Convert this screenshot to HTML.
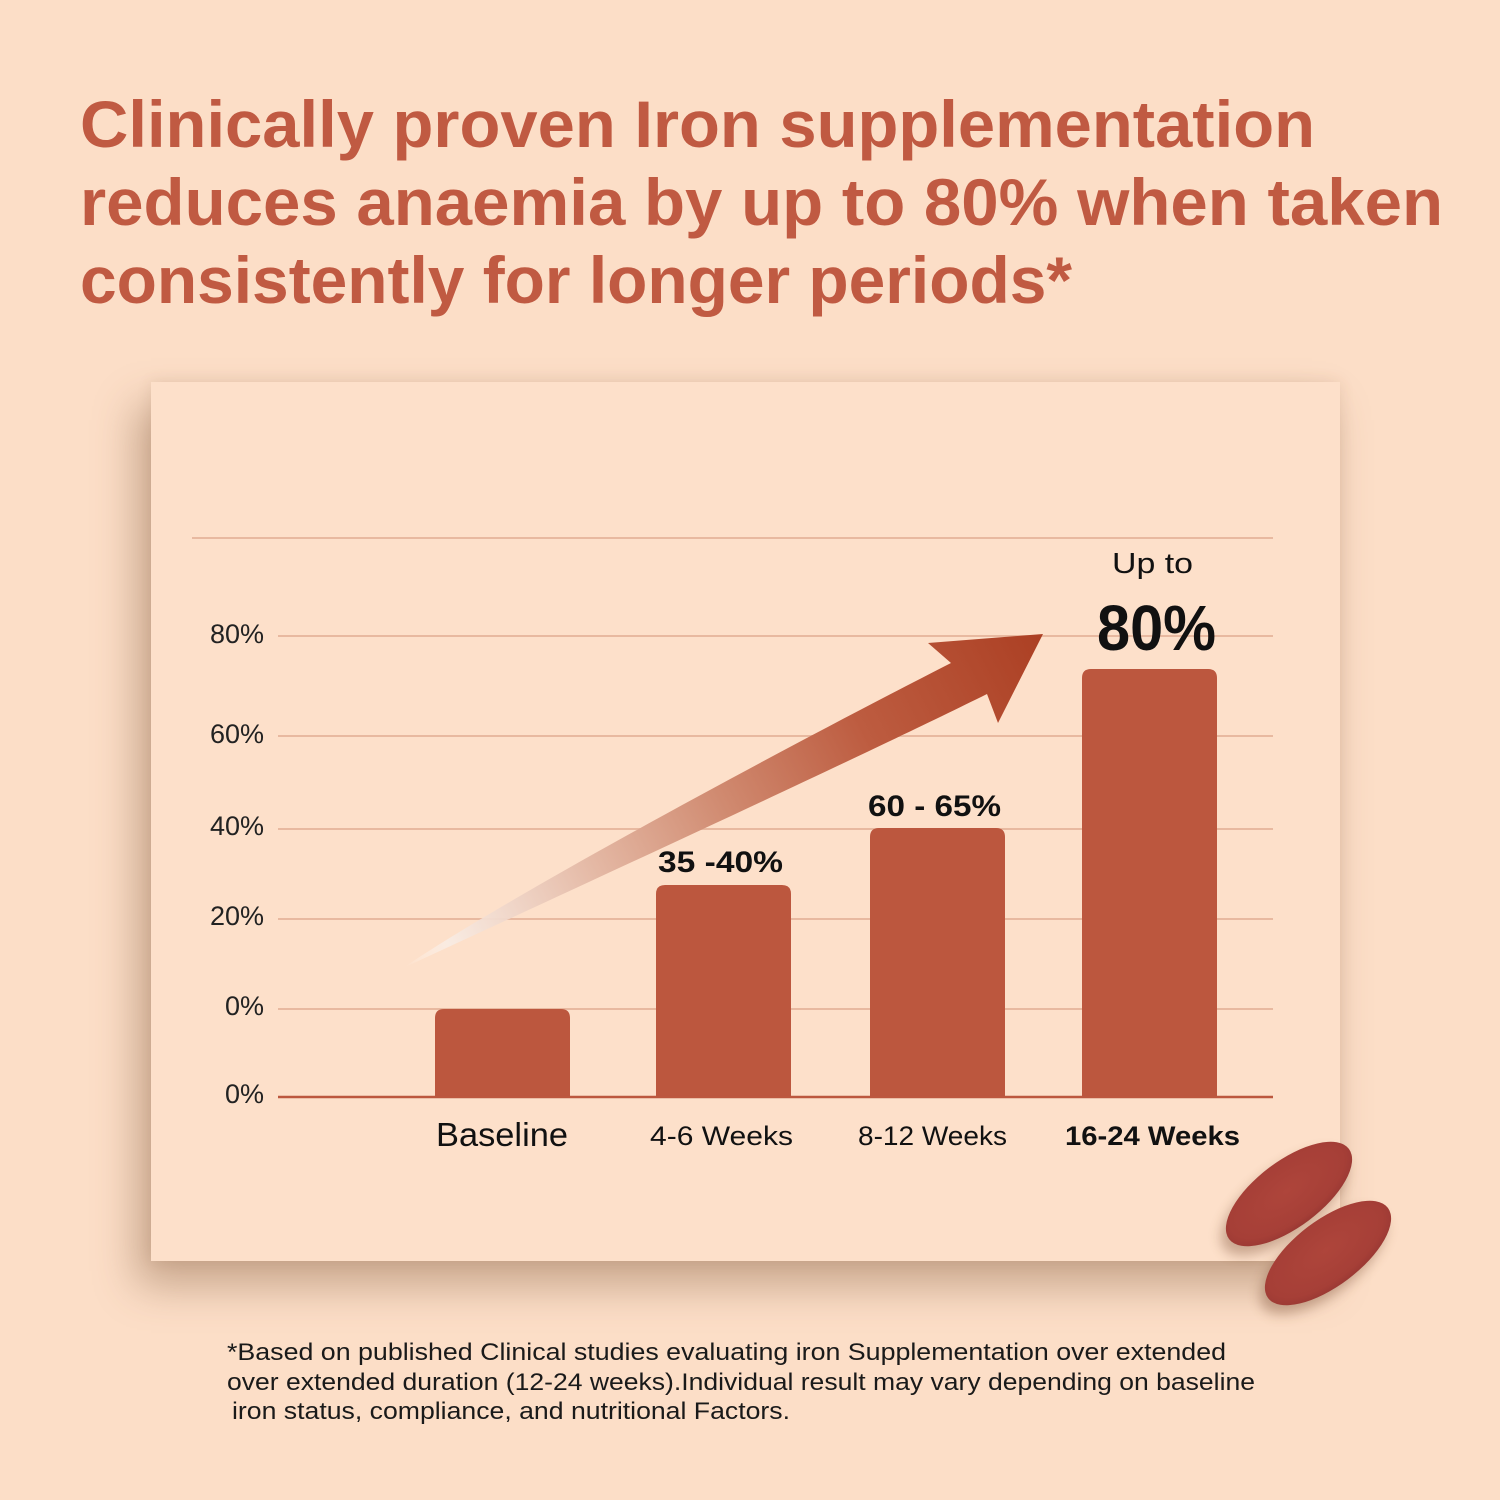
<!DOCTYPE html>
<html>
<head>
<meta charset="utf-8">
<style>
  html, body { margin:0; padding:0; }
  body { width:1500px; height:1500px; background:#FCDEC7; position:relative; overflow:hidden; font-family:"Liberation Sans", sans-serif; }
  .card { position:absolute; left:151px; top:382px; width:1189px; height:879px; background:#FDE0CA;
          box-shadow: -14px 24px 40px rgba(120,80,50,0.40), 0 0 14px rgba(120,80,50,0.12); }
  svg { position:absolute; left:0; top:0; }
</style>
</head>
<body>
<div class="card"></div>
<svg width="1500" height="1500" viewBox="0 0 1500 1500" xmlns="http://www.w3.org/2000/svg">
  <defs>
    <linearGradient id="arrowGrad" gradientUnits="userSpaceOnUse" x1="405" y1="966" x2="1040" y2="636">
      <stop offset="0" stop-color="#fff8f2" stop-opacity="0"/>
      <stop offset="0.07" stop-color="#f8ece4" stop-opacity="0.9"/>
      <stop offset="0.3" stop-color="#e4b8a4"/>
      <stop offset="0.5" stop-color="#d08a70"/>
      <stop offset="0.72" stop-color="#bd5c40"/>
      <stop offset="1" stop-color="#ac4024"/>
    </linearGradient>
    <radialGradient id="pillGrad" cx="0.5" cy="0.45" r="0.6">
      <stop offset="0" stop-color="#ae453b"/>
      <stop offset="0.75" stop-color="#a63f37"/>
      <stop offset="1" stop-color="#953632"/>
    </radialGradient>
    <filter id="blur8" x="-50%" y="-50%" width="200%" height="200%">
      <feGaussianBlur stdDeviation="6"/>
    </filter>
  </defs>

  <!-- Title -->
  <g font-family="Liberation Sans, sans-serif" font-weight="700" fill="#C05A42" font-size="66">
    <text x="80" y="147" textLength="1235" lengthAdjust="spacingAndGlyphs">Clinically proven Iron supplementation</text>
    <text x="80" y="225" textLength="1363" lengthAdjust="spacingAndGlyphs">reduces anaemia by up to 80% when taken</text>
    <text x="80" y="303" textLength="992" lengthAdjust="spacingAndGlyphs">consistently for longer periods*</text>
  </g>

  <!-- Grid lines -->
  <g stroke="#E8B9A0" stroke-width="2">
    <line x1="192" y1="538" x2="1273" y2="538"/>
    <line x1="278" y1="636" x2="1273" y2="636"/>
    <line x1="278" y1="736" x2="1273" y2="736"/>
    <line x1="278" y1="829" x2="1273" y2="829"/>
    <line x1="278" y1="919" x2="1273" y2="919"/>
    <line x1="278" y1="1009" x2="1273" y2="1009"/>
  </g>

  <!-- Y labels -->
  <g font-family="Liberation Sans, sans-serif" font-size="27" fill="#222" text-anchor="end">
    <text x="264" y="643">80%</text>
    <text x="264" y="743">60%</text>
    <text x="264" y="835">40%</text>
    <text x="264" y="925">20%</text>
    <text x="264" y="1015">0%</text>
    <text x="264" y="1103">0%</text>
  </g>

  <!-- Arrow -->
  <path d="M403 968 C515 892 800 740 951 663 L928 643 L1043 634 L998 723 L987 694 C850 762 565 893 403 968 Z" fill="url(#arrowGrad)"/>

  <!-- Bars -->
  <g fill="#BC573E">
    <path d="M435 1097 V1018 Q435 1009 444 1009 H561 Q570 1009 570 1018 V1097 Z"/>
    <path d="M656 1097 V894 Q656 885 665 885 H782 Q791 885 791 894 V1097 Z"/>
    <path d="M870 1097 V837 Q870 828 879 828 H996 Q1005 828 1005 837 V1097 Z"/>
    <path d="M1082 1097 V678 Q1082 669 1091 669 H1208 Q1217 669 1217 678 V1097 Z"/>
  </g>

  <!-- Axis -->
  <line x1="278" y1="1097" x2="1273" y2="1097" stroke="#BC573E" stroke-width="2.5"/>

  <!-- Bar value labels -->
  <g font-family="Liberation Sans, sans-serif" font-weight="700" fill="#111">
    <text x="658" y="872" font-size="30" textLength="125" lengthAdjust="spacingAndGlyphs">35 -40%</text>
    <text x="868" y="816" font-size="30" textLength="133" lengthAdjust="spacingAndGlyphs">60 - 65%</text>
    <text x="1097" y="650" font-size="64" textLength="119" lengthAdjust="spacingAndGlyphs">80%</text>
  </g>
  <text x="1112" y="573" font-family="Liberation Sans, sans-serif" font-size="29" fill="#111" textLength="81" lengthAdjust="spacingAndGlyphs">Up to</text>

  <!-- X labels -->
  <g font-family="Liberation Sans, sans-serif" fill="#111">
    <text x="436" y="1146" font-size="33" textLength="132" lengthAdjust="spacingAndGlyphs">Baseline</text>
    <text x="650" y="1145" font-size="27" textLength="143" lengthAdjust="spacingAndGlyphs">4-6 Weeks</text>
    <text x="858" y="1145" font-size="27" textLength="149" lengthAdjust="spacingAndGlyphs">8-12 Weeks</text>
    <text x="1065" y="1145" font-size="27" font-weight="700" textLength="175" lengthAdjust="spacingAndGlyphs">16-24 Weeks</text>
  </g>

  <!-- Pills -->
  <g>
    <ellipse cx="1284" cy="1203" rx="75" ry="33" transform="rotate(-37 1284 1203)" fill="#6a3a24" opacity="0.35" filter="url(#blur8)"/>
    <ellipse cx="1289" cy="1194" rx="75" ry="33" transform="rotate(-37 1289 1194)" fill="url(#pillGrad)"/>
    <ellipse cx="1323" cy="1262" rx="75" ry="33" transform="rotate(-37 1323 1262)" fill="#6a3a24" opacity="0.35" filter="url(#blur8)"/>
    <ellipse cx="1328" cy="1253" rx="75" ry="33" transform="rotate(-37 1328 1253)" fill="url(#pillGrad)"/>
  </g>

  <!-- Footnote -->
  <g font-family="Liberation Sans, sans-serif" font-size="24" fill="#1a1a1a">
    <text x="227" y="1360" textLength="999" lengthAdjust="spacingAndGlyphs">*Based on published Clinical studies evaluating iron Supplementation over extended</text>
    <text x="227" y="1390" textLength="1028" lengthAdjust="spacingAndGlyphs">over extended duration (12-24 weeks).Individual result may vary depending on baseline</text>
    <text x="232" y="1419" textLength="558" lengthAdjust="spacingAndGlyphs">iron status, compliance, and nutritional Factors.</text>
  </g>
</svg>
</body>
</html>
